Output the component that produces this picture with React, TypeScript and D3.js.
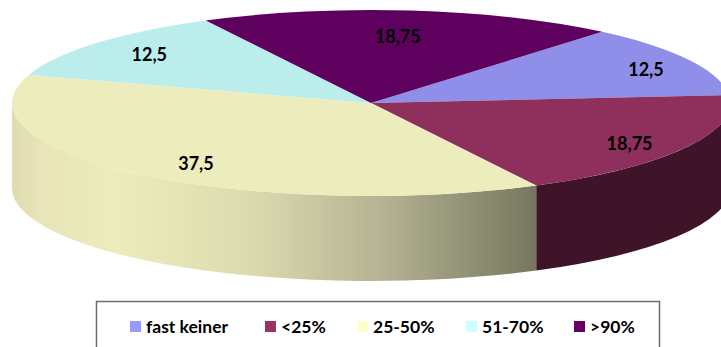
import React from "react";
import * as d3 from "d3";

const categories = ["fast keiner", "<25%", "25-50%", "51-70%", ">90%"];
const values = [12.5, 18.75, 37.5, 12.5, 18.75];
const valueLabels = ["12,5", "18,75", "37,5", "12,5", "18,75"];
const topColors = ["#8f8fea", "#8e2f5c", "#edecbd", "#bbeded", "#5e005e"];
const legendColors = ["#9999ff", "#993366", "#ffffcc", "#ccffff", "#660066"];
const legendX = [130, 265, 357, 466, 574];
const labelNudges = [[20, 0], [7, 4], [10, 3], [-2, -1], [-5, 7]];

const W = 721, H = 347;
const cx = 371, cy = 103, rx = 359, ry = 93, depth = 85;
const startDeg = 40.1;
const startA = (startDeg * Math.PI) / 180;
const ex = (a: number) => cx + rx * Math.sin(a);
const ey = (a: number) => cy - ry * Math.cos(a);

const pie = d3.pie<number>().sort(null).startAngle(startA).endAngle(startA + 2 * Math.PI);
const arcs = pie(values);
const arcGen = d3.arc<d3.PieArcDatum<number>>().innerRadius(0).outerRadius(rx);

// side wall between two angles, limited to the visible front half
function wall(a0: number, a1: number) {
  const s = Math.max(a0, Math.PI / 2), e = Math.min(a1, (3 * Math.PI) / 2);
  if (e <= s) return null;
  return `M${ex(s)},${ey(s)}A${rx},${ry} 0 0 1 ${ex(e)},${ey(e)}L${ex(e)},${ey(e) + depth}A${rx},${ry} 0 0 0 ${ex(s)},${ey(s) + depth}Z`;
}

export default function App() {
  const font = "Lato, 'Open Sans', sans-serif";
  return (
    <svg width={W} height={H} viewBox={`0 0 ${W} ${H}`} style={{ position: "fixed", left: 0, top: 0, background: "#fff", display: "block" }}>
      <defs>
        <linearGradient id="sideY" gradientUnits="userSpaceOnUse" x1={12} x2={537} y1={0} y2={0}>
          <stop offset="0" stopColor="#dedcb0" />
          <stop offset="0.06" stopColor="#e8e6b9" />
          <stop offset="0.2" stopColor="#edecbd" />
          <stop offset="0.45" stopColor="#dcdbaf" />
          <stop offset="0.7" stopColor="#b5b493" />
          <stop offset="1" stopColor="#76765f" />
        </linearGradient>
      </defs>
      {arcs.map((d, i) => {
        const p = wall(d.startAngle, d.endAngle);
        return p ? <path key={i} d={p} fill={i === 2 ? "url(#sideY)" : "#3f1428"} /> : null;
      })}
      <g transform={`translate(${cx},${cy}) scale(1,${ry / rx})`}>
        {arcs.map((d, i) => (
          <path key={i} d={arcGen(d) as string} fill={topColors[i]} />
        ))}
      </g>
      {arcs.map((d, i) => {
        const m = (d.startAngle + d.endAngle) / 2;
        const f = 0.8;
        return (
          <text key={i} x={cx + f * rx * Math.sin(m) + labelNudges[i][0]} y={cy - f * ry * Math.cos(m) + labelNudges[i][1]}
            textAnchor="middle" dominantBaseline="central" fontFamily={font} fontWeight={700} fontSize={18} fill="#000">
            {valueLabels[i]}
          </text>
        );
      })}
      <rect x={96.5} y={301.5} width={563} height={60} fill="#fff" stroke="#6e6e6e" strokeWidth={1.5} />
      {categories.map((c, i) => (
        <g key={c}>
          <rect x={legendX[i]} y={321} width={11} height={11} fill={legendColors[i]} />
          <text x={legendX[i] + 16} y={333} fontFamily={font} fontWeight={700} fontSize={17.5} fill="#000">{c}</text>
        </g>
      ))}
    </svg>
  );
}
